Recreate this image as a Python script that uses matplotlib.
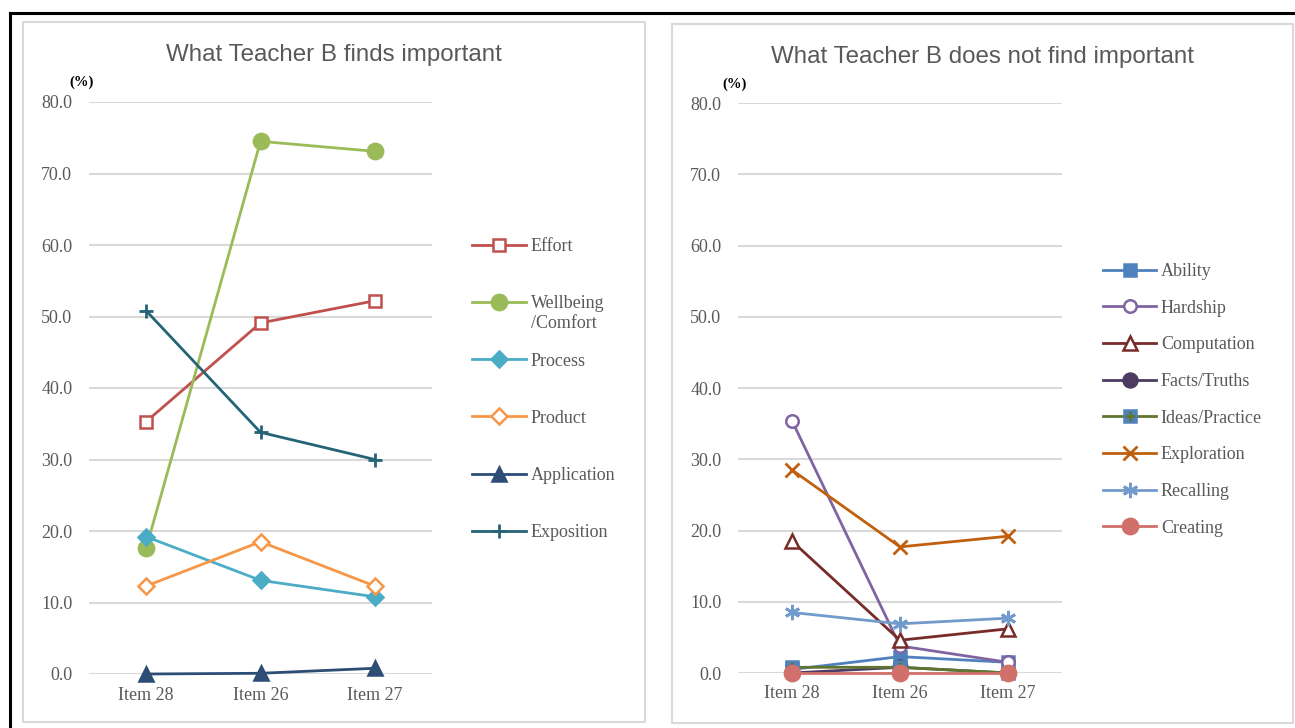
import matplotlib
matplotlib.use("Agg")
import matplotlib.pyplot as plt
from matplotlib.patches import Rectangle
from matplotlib.lines import Line2D

# --- data (percent) ---
items = ["Item 28", "Item 26", "Item 27"]

# left chart: what Teacher B finds important
effort = [35.3, 49.1, 52.2]
wellbeing = [17.6, 74.5, 73.1]
process = [19.2, 13.1, 10.8]
product = [12.3, 18.5, 12.3]
application = [0.0, 0.1, 0.8]
exposition = [50.8, 33.8, 30.0]

# right chart: what Teacher B does not find important
ability = [0.5, 2.3, 1.5]
hardship = [35.4, 3.8, 1.5]
computation = [18.5, 4.6, 6.2]
facts = [0.0, 0.8, 0.0]
ideas = [0.8, 0.8, 0.0]
exploration = [28.5, 17.7, 19.2]
recalling = [8.5, 6.9, 7.7]
creating = [0.0, 0.0, 0.0]

yticks = [0, 10, 20, 30, 40, 50, 60, 70, 80]

W, H = 1295, 728
fig = plt.figure(figsize=(W / 100, H / 100), dpi=100)

GRAY = "#595959"
GRID = "#d9d9d9"
SERIF = ["Liberation Serif", "DejaVu Serif"]
SANS = ["Liberation Sans", "DejaVu Sans"]


def fx(px):
    return px / W


def fy(py):
    return 1 - py / H


# --- frames ---
fig.patches.append(Rectangle((fx(23), fy(722)), fx(645 - 23), (722 - 22) / H,
                             transform=fig.transFigure, fill=False,
                             edgecolor=GRID, lw=1.5))
fig.patches.append(Rectangle((fx(672), fy(723)), fx(1293 - 672), (723 - 24) / H,
                             transform=fig.transFigure, fill=False,
                             edgecolor=GRID, lw=1.5))
fig.add_artist(Line2D([fx(10), 1.0], [fy(13), fy(13)], transform=fig.transFigure,
                      color="black", lw=2.2))
fig.add_artist(Line2D([fx(10), fx(10)], [fy(13), 0.0], transform=fig.transFigure,
                      color="black", lw=2.2))


def setup(ax):
    ax.set_xlim(-0.5, 2.5)
    ax.set_ylim(0, 80)
    ax.set_yticks(yticks)
    ax.set_yticklabels([f"{v:.1f}" for v in yticks], family=SERIF, fontsize=13, color=GRAY)
    ax.set_xticks(range(len(items)))
    ax.set_xticklabels(items, family=SERIF, fontsize=13, color=GRAY)
    ax.tick_params(axis="y", length=0, pad=12)
    ax.tick_params(axis="x", length=0, pad=9)
    for s in ax.spines.values():
        s.set_visible(False)
    ax.grid(axis="y", color=GRID, lw=1.5)
    ax.set_axisbelow(True)
    ax.patch.set_alpha(0)


def series(ax, vals, color, marker, filled=True, ms=9, label=None, mew=1.8):
    x = range(len(vals))
    return ax.plot(x, vals, color=color, lw=2, marker=marker, ms=ms,
                   mfc=color if filled else "white", mec=color, mew=mew,
                   clip_on=False, label=label)[0]


# ---------- left chart ----------
ax1 = fig.add_axes([fx(89), fy(674), fx(432 - 89), (674 - 102) / H])
setup(ax1)
h = []
h.append(series(ax1, effort, "#c0504d", "s", filled=False, ms=9, label="Effort"))
h.append(series(ax1, wellbeing, "#9bbb59", "o", ms=11, label="Wellbeing"))
h.append(series(ax1, process, "#4bacc6", "D", ms=8, label="Process"))
h.append(series(ax1, product, "#f79646", "D", filled=False, ms=8, label="Product"))
h.append(series(ax1, application, "#2c4d75", "^", ms=10, label="Application"))
h.append(series(ax1, exposition, "#256477", "+", ms=10, label="Exposition", mew=2))
fig.text(fx((23 + 645) / 2), fy(55), "What Teacher B finds important",
         ha="center", va="center", family=SANS, fontsize=17.4, color=GRAY)
fig.text(fx(82), fy(82), "(%)", ha="center", va="center", family=SERIF,
         fontsize=10.5, fontweight="bold", color="black")
fig.legend(handles=h, loc="upper left", bbox_to_anchor=(fx(472), fy(238)),
           frameon=False, prop={"family": SERIF, "size": 13}, labelcolor=GRAY,
           handlelength=3.0, handletextpad=0.25, labelspacing=2.23,
           borderpad=0, borderaxespad=0)
# second line of the wrapped legend label
fig.text(fx(531), fy(324), "/Comfort", ha="left", va="center", family=SERIF,
         fontsize=13, color=GRAY)

# ---------- right chart ----------
ax2 = fig.add_axes([fx(738), fy(673), fx(1062 - 738), (673 - 103) / H])
setup(ax2)
h2 = []
h2.append(series(ax2, ability, "#4f81bd", "s", ms=9, label="Ability"))
h2.append(series(ax2, hardship, "#8064a2", "o", filled=False, ms=9, label="Hardship"))
h2.append(series(ax2, computation, "#772c2a", "^", filled=False, ms=10, label="Computation"))
h2.append(series(ax2, facts, "#4d3b62", "o", ms=10, label="Facts/Truths"))
ideas_sq = series(ax2, ideas, "#5f7530", "s", ms=9, label="Ideas/Practice")
ideas_sq.set_markerfacecolor("#4f81bd")
ideas_sq.set_markeredgecolor("#4f81bd")
ideas_pl = ax2.plot(range(len(ideas)), ideas, ls="none", marker="+", ms=7, mew=2,
                    color="#5f7530", clip_on=False)[0]
h2.append((ideas_sq, ideas_pl))
h2.append(series(ax2, exploration, "#c0600f", "x", ms=10, label="Exploration", mew=2))
h2.append(series(ax2, recalling, "#729aca", (6, 2, 0), ms=11, label="Recalling", mew=2))
h2.append(series(ax2, creating, "#d16f6b", "o", ms=11, label="Creating"))
labels2 = ["Ability", "Hardship", "Computation", "Facts/Truths", "Ideas/Practice",
           "Exploration", "Recalling", "Creating"]
fig.text(fx((672 + 1293) / 2), fy(57), "What Teacher B does not find important",
         ha="center", va="center", family=SANS, fontsize=17.4, color=GRAY)
fig.text(fx(735), fy(84), "(%)", ha="center", va="center", family=SERIF,
         fontsize=10.5, fontweight="bold", color="black")
fig.legend(handles=h2, labels=labels2, loc="upper left", bbox_to_anchor=(fx(1103), fy(263)),
           frameon=False, prop={"family": SERIF, "size": 13}, labelcolor=GRAY,
           handlelength=2.95, handletextpad=0.25, labelspacing=1.09,
           borderpad=0, borderaxespad=0)

fig.savefig("out.png", dpi=100)
